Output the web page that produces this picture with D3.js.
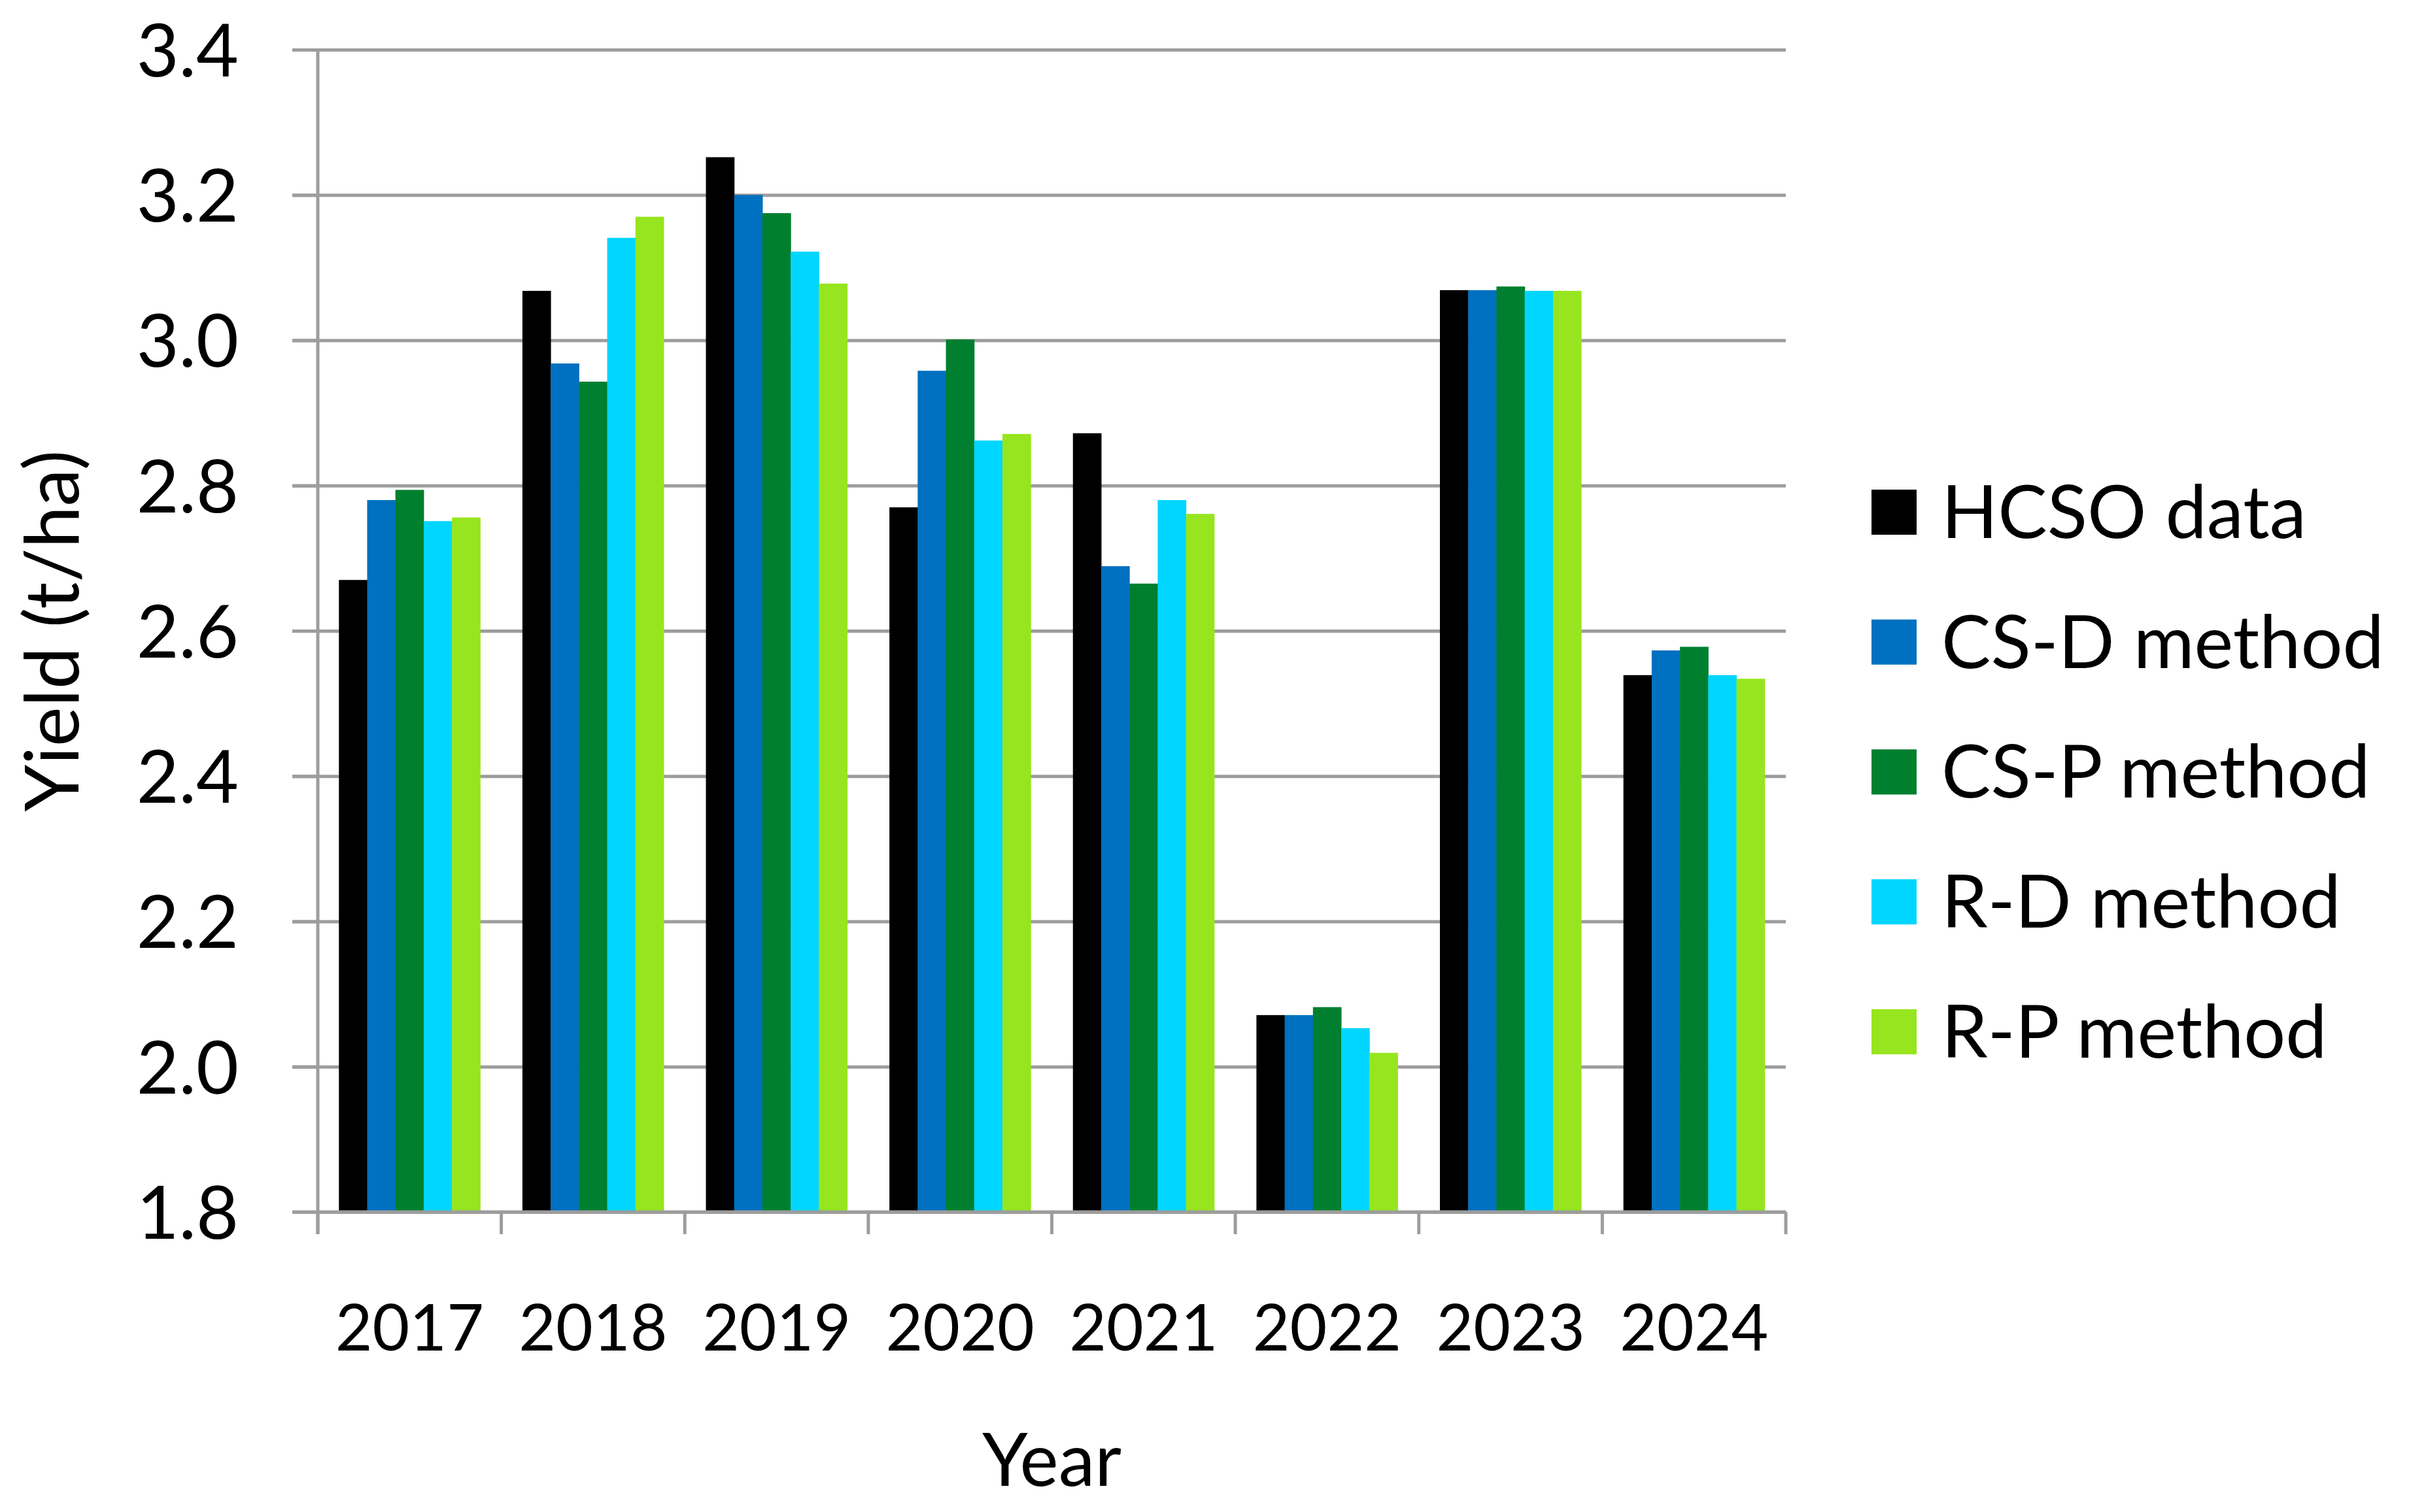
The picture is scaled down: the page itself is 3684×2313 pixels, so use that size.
<!DOCTYPE html>
<html>
<head>
<meta charset="utf-8">
<script src="https://cdn.jsdelivr.net/npm/d3@7"></script>
<style>
  html, body { margin: 0; padding: 0; background: #ffffff; }
  svg { display: block; }
  text { font-family: "Lato", "Open Sans", sans-serif; fill: #000; }
</style>
</head>
<body>
<svg id="chart" width="3684" height="2313"></svg>
<script>
// ---- data ----
const years = ["2017", "2018", "2019", "2020", "2021", "2022", "2023", "2024"];
const seriesNames = ["HCSO data", "CS-D method", "CS-P method", "R-D method", "R-P method"];
const hcsoData  = [2.670, 3.068, 3.252, 2.770, 2.872, 2.071, 3.069, 2.539];
const csdMethod = [2.780, 2.968, 3.200, 2.958, 2.689, 2.071, 3.069, 2.573];
const cspMethod = [2.794, 2.943, 3.175, 3.001, 2.665, 2.082, 3.074, 2.578];
const rdMethod  = [2.751, 3.141, 3.122, 2.862, 2.780, 2.053, 3.068, 2.539];
const rpMethod  = [2.756, 3.170, 3.078, 2.871, 2.761, 2.019, 3.068, 2.534];
const yTicks = [1.8, 2.0, 2.2, 2.4, 2.6, 2.8, 3.0, 3.2, 3.4];
const colors = ["#000000", "#0070C0", "#007F2F", "#00D6FF", "#97E51E"];

const seriesValues = [hcsoData, csdMethod, cspMethod, rdMethod, rpMethod];

// ---- layout ----
const W = 3684, H = 2313;
const plot = { left: 486, right: 2731, top: 76, bottom: 1854 };
const gridColor = "#9d9d9d";

const svg = d3.select("#chart");
svg.append("rect").attr("width", W).attr("height", H).attr("fill", "#fff");

const x = d3.scaleBand().domain(years).range([plot.left, plot.right]).padding(0);
const groupFrac = 0.77;
const xInner = d3.scaleBand()
  .domain(seriesNames)
  .range([x.bandwidth() * (1 - groupFrac) / 2, x.bandwidth() * (1 + groupFrac) / 2])
  .padding(0);
const y = d3.scaleLinear().domain([1.8, 3.4]).range([plot.bottom, plot.top]);

// gridlines
const gridLen = plot.right - (plot.left - 39);
svg.append("g")
  .attr("transform", `translate(${plot.right},0)`)
  .call(d3.axisLeft(y).tickValues(yTicks).tickSize(gridLen).tickFormat(""))
  .call(g => g.select(".domain").remove())
  .call(g => g.selectAll(".tick line").attr("stroke", gridColor).attr("stroke-width", 5));

// bars
const table = years.map((yr, i) => ({ year: yr, vals: seriesNames.map((s, j) => ({ s, j, v: seriesValues[j][i] })) }));
const groups = svg.append("g").selectAll("g").data(table).join("g")
  .attr("transform", d => `translate(${x(d.year)},0)`);
groups.selectAll("rect").data(d => d.vals).join("rect")
  .attr("x", d => xInner(d.s))
  .attr("width", xInner.bandwidth() + 0.5)
  .attr("y", d => y(d.v))
  .attr("height", d => y(1.8) - y(d.v))
  .attr("fill", d => colors[d.j]);

// y axis labels + ticks
const yAxis = svg.append("g")
  .attr("transform", `translate(${plot.left},0)`)
  .call(d3.axisLeft(y).tickValues(yTicks).tickSize(39).tickPadding(82).tickFormat(d3.format(".1f")))
  .call(g => g.select(".domain").remove());
yAxis.selectAll(".tick line").attr("stroke", gridColor).attr("stroke-width", 5);
yAxis.selectAll(".tick text")
  .attr("font-size", 112).attr("dy", "0.36em")
  .style("font-family", "Lato").attr("fill", "#000");

// x-axis baseline (1.8) redraw on top of bars
svg.append("line")
  .attr("x1", plot.left - 39).attr("x2", plot.right)
  .attr("y1", y(1.8)).attr("y2", y(1.8))
  .attr("stroke", gridColor).attr("stroke-width", 5);

// vertical y axis line
svg.append("line")
  .attr("x1", plot.left).attr("x2", plot.left)
  .attr("y1", y(3.4) - 2).attr("y2", y(1.8) + 34)
  .attr("stroke", gridColor).attr("stroke-width", 5);

// x category boundary ticks
const boundaries = years.map(yr => x(yr)).concat([x(years[years.length - 1]) + x.bandwidth()]);
svg.append("g").selectAll("line").data(boundaries).join("line")
  .attr("x1", d => d).attr("x2", d => d)
  .attr("y1", y(1.8)).attr("y2", y(1.8) + 34)
  .attr("stroke", gridColor).attr("stroke-width", 5);

// x labels
const xAxis = svg.append("g")
  .attr("transform", `translate(0,${plot.bottom})`)
  .call(d3.axisBottom(x).tickSize(0).tickPadding(0))
  .call(g => g.select(".domain").remove());
xAxis.selectAll(".tick text")
  .attr("y", 2066 - plot.bottom).attr("dy", 0)
  .attr("font-size", 98).style("font-family", "Lato").attr("fill", "#000");

// axis titles
svg.append("text")
  .attr("transform", `translate(120,${(plot.top + plot.bottom) / 2}) rotate(-90)`)
  .attr("text-anchor", "middle")
  .attr("font-size", 115)
  .text("Yield (t/ha)");

svg.append("text")
  .attr("x", (plot.left + plot.right) / 2)
  .attr("y", 2273)
  .attr("text-anchor", "middle")
  .attr("font-size", 112)
  .text("Year");

// legend
const legend = svg.append("g").attr("transform", "translate(2862,749)");
const items = legend.selectAll("g").data(seriesNames).join("g")
  .attr("transform", (d, i) => `translate(0,${i * 198.7})`);
items.append("rect").attr("width", 69).attr("height", 69).attr("fill", (d, i) => colors[i]);
items.append("text").attr("x", 107).attr("y", 74).attr("font-size", 113).text(d => d);
</script>
</body>
</html>
